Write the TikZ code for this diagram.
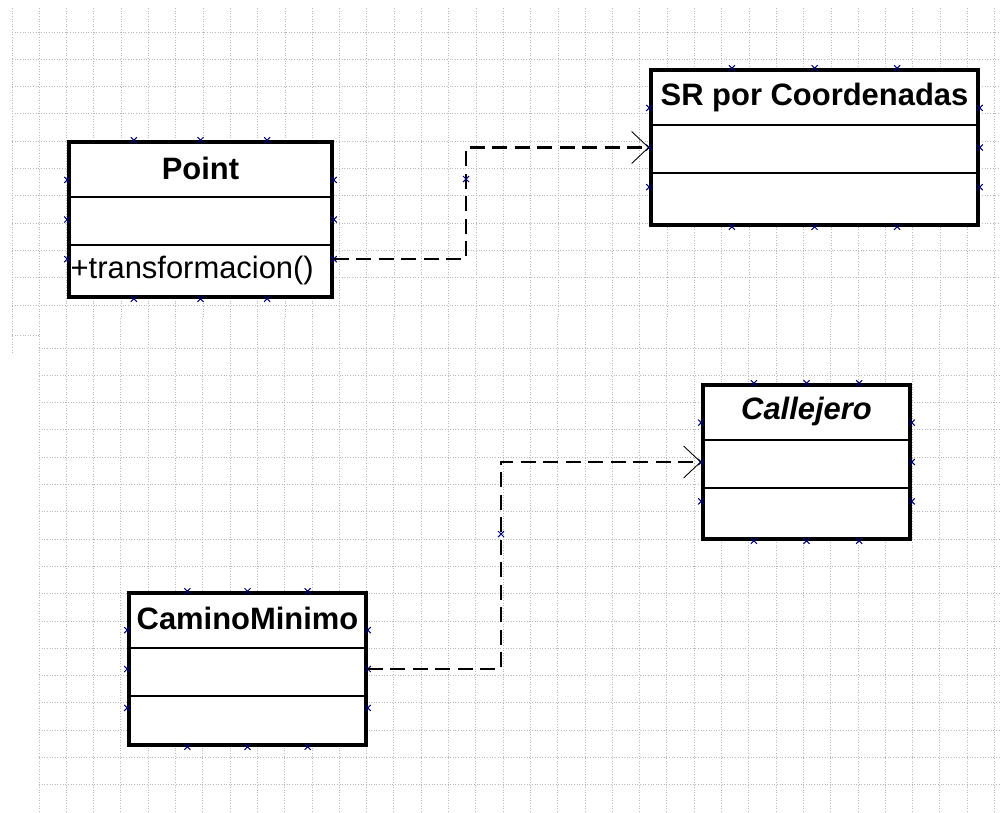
\documentclass[tikz,border=0pt]{standalone}
\usepackage{fontspec}
\setmainfont{Liberation Sans}
\usetikzlibrary{calc}
\usetikzlibrary{arrows.meta}

\tikzset{
  pics/xmark/.style={code={
    \draw[blue!45!black, line width=0.6pt] (-3,-3) -- (3,3) (-3,3) -- (3,-3);
  }}
}

\begin{document}
\begin{tikzpicture}[x=0.2mm, y=-0.2mm,
    gridline/.style={gray!55, densely dotted, line width=0.5pt},
    classbox/.style={draw, rectangle, fill=white, line width=2pt, inner sep=0pt},
    divider/.style={line width=1.3pt},
    classname/.style={font=\fontsize{17.6}{20}\selectfont\bfseries},
    member/.style={font=\fontsize{17.6}{20}\selectfont, anchor=west, inner sep=0pt},
    realize/.style={line width=1.2pt, dash pattern=on 3mm off 1.5mm,
      -{Straight Barb[length=3.4mm, width=6.4mm, line width=0.5pt]}}
  ]

    \useasboundingbox (0,0) rectangle (1000,812);
    \fill[white] (0,0) rectangle (1000,812);

    % grid, upper part
    \foreach \i in {0,...,36}
      \draw[gridline] ({12+27.3*\i},8) -- ({12+27.3*\i},318);
    \foreach \j in {0,...,10}
      \draw[gridline] (12,{32+27.3*\j}) -- (1000,{32+27.3*\j});
    \draw[gridline] (12,318) -- (12,353);
    \draw[gridline] (12,335) -- (39,335);

    % grid, lower part
    \foreach \i in {0,...,35}
      \draw[gridline] ({39+27.3*\i},318) -- ({39+27.3*\i},812);
    \foreach \j in {0,...,16}
      \draw[gridline] (39,{348+27.3*\j}) -- (1000,{348+27.3*\j});

    % classes
    \node[classbox, minimum width=52.6mm, minimum height=31mm] (point) at (200.5,219.5) {};
    \node[classname] (point-name) at ($(point.north)+(0,28)$) {Point};
    \node[member] (point-op) at ($(point.north west)+(3,130)$) {+transformacion()};

    \node[classbox, minimum width=65.4mm, minimum height=31mm] (sr) at (814.5,147.5) {};
    \node[classname] (sr-name) at ($(sr.north)+(0,29)$) {SR por Coordenadas};

    \node[classbox, minimum width=41.4mm, minimum height=30.8mm] (callejero) at (806.5,462) {};
    \node[classname, font=\fontsize{17.6}{20}\selectfont\bfseries\itshape] (callejero-name)
      at ($(callejero.north)+(0,28)$) {Callejero};

    \node[classbox, minimum width=47.4mm, minimum height=30.4mm] (camino) at (247.5,669) {};
    \node[classname] (camino-name) at ($(camino.north)+(0,27)$) {CaminoMinimo};

    \foreach \c in {point,sr,callejero,camino} {
      \draw[divider] ($(\c.north west)+(0,56.5)$) -- ($(\c.north east)+(0,56.5)$);
      \draw[divider] ($(\c.north west)+(0,105)$) -- ($(\c.north east)+(0,105)$);
      \foreach \f in {0.25,0.5,0.75} {
        \pic at ($(\c.north west)!\f!(\c.north east)$) {xmark};
        \pic at ($(\c.south west)!\f!(\c.south east)$) {xmark};
        \pic at ($(\c.north west)!\f!(\c.south west)$) {xmark};
        \pic at ($(\c.north east)!\f!(\c.south east)$) {xmark};
      }
    }

    % dependencies
    \coordinate (point-out) at ($(point.north east)!0.75!(point.south east)$);
    \coordinate (bend1) at (466,179);
    \draw[realize] (point-out) -| (bend1) |- (sr.west);
    \pic at (bend1) {xmark};

    \coordinate (bend2) at (501,534);
    \draw[realize] (camino.east) -| (bend2) |- (callejero.west);
    \pic at (bend2) {xmark};

\end{tikzpicture}
\end{document}
